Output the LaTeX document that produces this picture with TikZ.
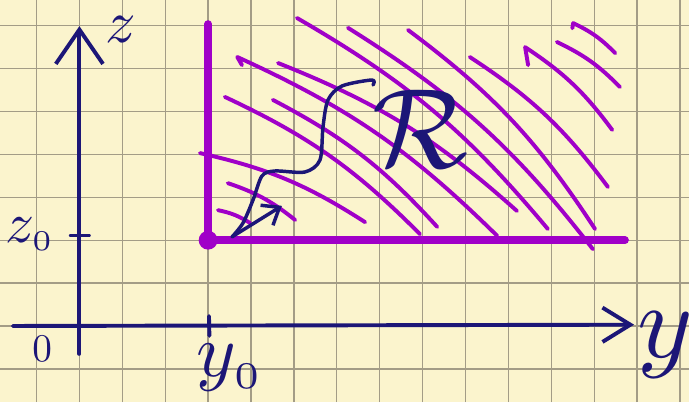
\documentclass[tikz,border=0pt]{standalone}
\usepackage{amsmath}
\usepackage{xcolor}
\usepackage{tikz}
\usetikzlibrary{arrows.meta}
\definecolor{paper}{HTML}{FBF4CD}
\definecolor{gridline}{HTML}{A39C86}
\definecolor{inkblue}{HTML}{1C1677}
\definecolor{inkpurple}{HTML}{A000C8}
\tikzset{
  ink/.style={draw=inkblue,line width=2.6pt,line cap=round,line join=round},
  hatch/.style={draw=inkpurple,line width=2.6pt,line cap=round,line join=round},
  wall/.style={draw=inkpurple,line width=5pt,line cap=round,line join=round},
  lbl/.style={text=inkblue,inner sep=0pt},
}

\begin{document}
\begin{tikzpicture}
  \useasboundingbox (-1.851,-1.772) rectangle (14.21,7.599);
  \fill[paper] (-1.851,-1.772) rectangle (14.21,7.599);
  \draw[gridline,line width=0.9pt] (-1.851,-1.772) grid (14.21,7.599);
  % axes
  \draw[ink,-{Straight Barb[length=8mm,width=11mm]}] (0,-0.65) -- (0,6.99);
  \draw[ink,-{Straight Barb[length=6.5mm,width=8mm]}] (-1.55,0) -- (12.93,0.03);
  \draw[ink] (-0.2,2.11) -- (0.22,2.11);
  \draw[ink] (3.02,0.23) -- (3.03,-0.23);
  \node[lbl,scale=4] (zlab) at (0.97,6.9) {$z$};
  \node[lbl,scale=3.8] (zzero) at (-1.15,2.14) {$z_{\scriptscriptstyle 0}$};
  \node[lbl,scale=2.6] (olab) at (-0.87,-0.54) {$0$};
  \node[lbl,scale=5] (yzero) at (3.51,-0.98) {$y_{\scriptscriptstyle 0}$};
  \node[lbl,scale=7] (ylab) at (13.66,-0.44) {$y$};
  % hatching: hook / start / end
  \foreach \hx/\hy/\a/\b/\c/\d in {
      7.66/6.90/7.66/6.90/12.02/2.26, 6.26/6.95/6.26/6.95/11.97/1.79,
      5.07/7.18/5.07/7.18/10.92/2.26, 4.63/6.13/4.63/6.13/10.20/2.68,
      3.79/6.08/3.68/6.27/9.74/2.10, 4.51/5.27/4.51/5.27/8.34/2.31,
      3.39/5.34/3.39/5.34/7.94/2.14, 2.81/4.03/2.81/4.03/6.66/2.42,
      3.46/3.33/3.46/3.33/5.03/2.47, 3.23/2.70/3.23/2.70/3.98/2.40,
      9.10/6.27/9.10/6.27/12.32/3.24, 10.46/6.08/10.39/6.50/12.42/4.57,
      11.13/6.62/11.13/6.62/12.60/5.57, 11.49/6.94/11.51/7.06/12.49/6.36}
    \draw[hatch] (\hx,\hy) -- (\a,\b) to[bend left=10] (\c,\d);
  % boundary
  \draw[wall] (3,7.04) -- (3,2) -- (12.72,2);
  \fill[inkpurple] (3,2) circle (0.22);
  % path in R
  \draw[ink,line width=2.3pt] plot[smooth] coordinates {(3.557,2.075) (3.814,2.401) (4.047,2.937)
    (4.256,3.497) (4.559,3.613) (5.259,3.590) (5.608,3.869) (5.678,4.639) (5.795,5.268)
    (6.121,5.594) (6.820,5.734) (6.844,5.618)};
  \draw[ink,line width=2.3pt,-{Straight Barb[length=3.5mm,width=5.5mm]}] (3.56,2.08) -- (4.72,2.80);
  \node[lbl,scale=7.5] (rlab) at (7.94,4.59) {$\mathcal{R}$};
\end{tikzpicture}
\end{document}
